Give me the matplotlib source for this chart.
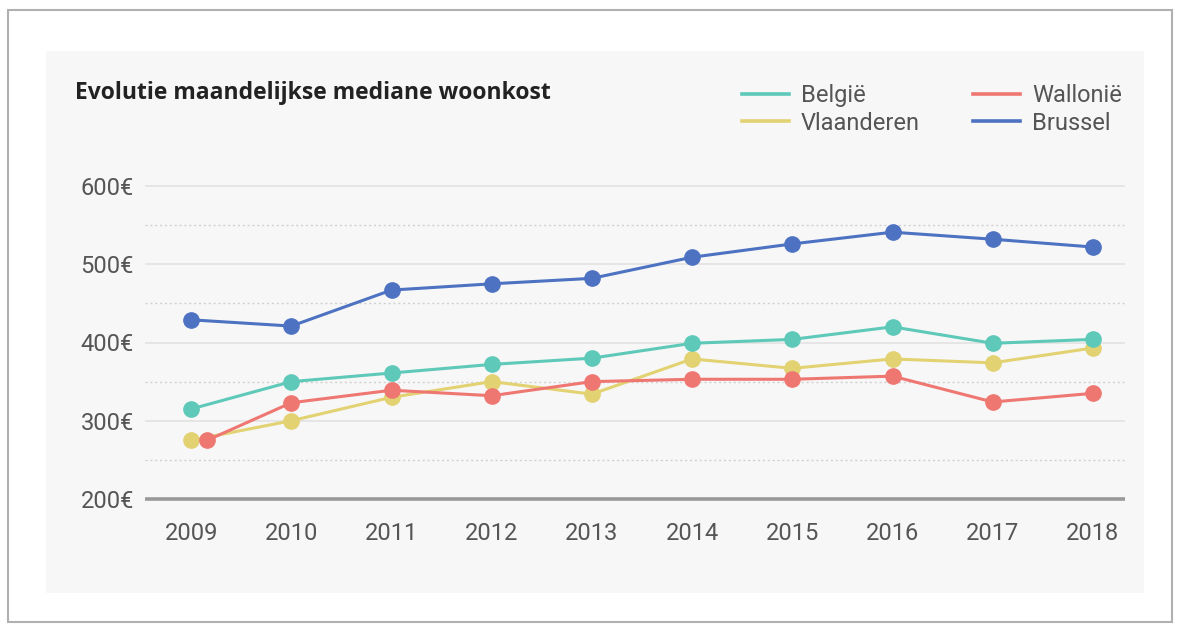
import matplotlib
matplotlib.use("Agg")
import matplotlib.pyplot as plt
from matplotlib.patches import Rectangle
from matplotlib.lines import Line2D

years = [2009, 2010, 2011, 2012, 2013, 2014, 2015, 2016, 2017, 2018]
# first Wallonie point sits slightly right of 2009 in the original
years_wallonie = [2009.16, 2010, 2011, 2012, 2013, 2014, 2015, 2016, 2017, 2018]

belgie = [315, 350, 361, 372, 380, 399, 404, 420, 399, 404]
vlaanderen = [275, 300, 330, 350, 334, 379, 367, 379, 374, 393]
wallonie = [275, 323, 339, 332, 350, 353, 353, 357, 324, 335]
brussel = [429, 421, 467, 475, 482, 509, 526, 541, 532, 522]

y_ticks = [200, 300, 400, 500, 600]
y_labels = ["200€", "300€", "400€", "500€", "600€"]
minor_grid = [250, 350, 450, 550]

c_belgie = "#5ec9b9"
c_vlaanderen = "#e2d272"
c_wallonie = "#ef7772"
c_brussel = "#4d72c2"

plt.rcParams['font.family'] = ['Roboto', 'DejaVu Sans']

W, H = 1184, 628
fig = plt.figure(figsize=(W / 100, H / 100), dpi=100)
fig.patch.set_facecolor("white")

# outer frame and grey panel (behind the axes)
fig.patches.append(Rectangle((8 / W, 1 - 622 / H), 1164 / W, 612 / H,
                             transform=fig.transFigure, facecolor="white",
                             edgecolor="#b0b0b0", lw=1.5, zorder=-2))
fig.patches.append(Rectangle((46 / W, 1 - 593 / H), 1098 / W, 542 / H,
                             transform=fig.transFigure, facecolor="#f7f7f7",
                             edgecolor="none", zorder=-1))

ax = fig.add_axes([145 / W, 1 - 502.9 / H, 980 / W, 320.8 / H])
ax.set_facecolor("none")
ax.set_xlim(2008.54, 2018.32)
ax.set_ylim(195, 605)

for v in y_ticks[1:]:
    ax.axhline(v, color="#e2e2e2", lw=1.2, zorder=1)
for v in minor_grid:
    ax.axhline(v, color="#d0d0d0", lw=1.0, ls=(0, (1.5, 2)), zorder=1)
ax.axhline(200, color="#999999", lw=2.6, zorder=2)

kw = dict(lw=2.2, marker="o", markersize=11, zorder=3)
ax.plot(years, vlaanderen, color=c_vlaanderen, **kw)
ax.plot(years, belgie, color=c_belgie, **kw)
ax.plot(years_wallonie, wallonie, color=c_wallonie, **kw)
ax.plot(years, brussel, color=c_brussel, **kw)

for s in ax.spines.values():
    s.set_visible(False)
ax.set_xticks(years)
ax.set_xticklabels([str(y) for y in years])
ax.set_yticks(y_ticks)
ax.set_yticklabels(y_labels)
ax.tick_params(axis="x", length=0, pad=14, labelsize=17, labelcolor="#555555")
ax.tick_params(axis="y", length=0, pad=8, labelsize=17, labelcolor="#555555")

fig.text(75 / W, 1 - 93 / H, "Evolutie maandelijkse mediane woonkost",
         fontsize=16.5, fontweight="bold", color="#222222", va="center",
         family=["Open Sans", "DejaVu Sans"])

names = ["België", "Vlaanderen", "Wallonië", "Brussel"]
colors = [c_belgie, c_vlaanderen, c_wallonie, c_brussel]
leg_handles = [Line2D([], [], color=c, lw=2.6) for c in colors]
leg = fig.legend(leg_handles, names, loc="upper left",
                 bbox_to_anchor=(730 / W, 1 - 72 / H), ncol=2, frameon=False,
                 fontsize=17, borderpad=0, labelspacing=0.2,
                 handlelength=2.0, handletextpad=0.5, columnspacing=2.25)
for t in leg.get_texts():
    t.set_color("#555555")

fig.savefig("out.png", dpi=100, facecolor="white")
